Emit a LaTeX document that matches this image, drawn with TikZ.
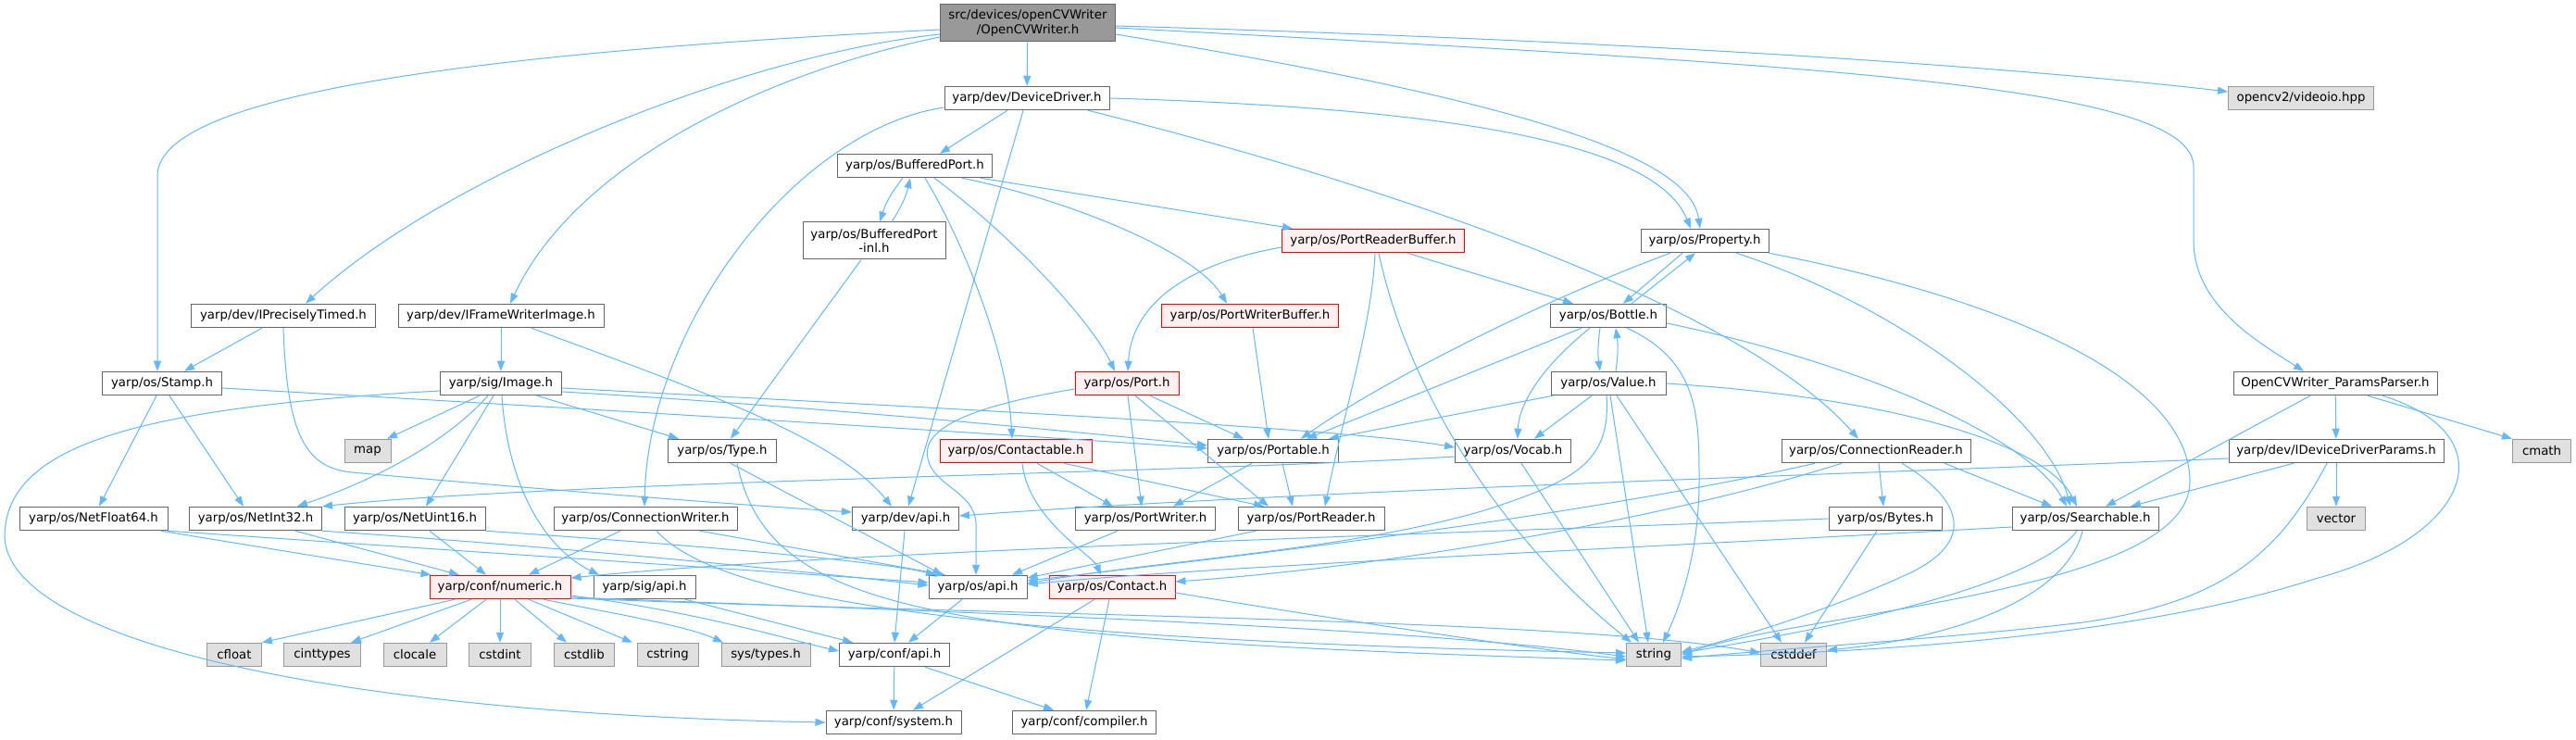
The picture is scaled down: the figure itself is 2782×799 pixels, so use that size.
\documentclass[tikz,border=0pt]{standalone}
\usepackage{fontspec}
\setmainfont{DejaVu Sans}
\usetikzlibrary{arrows.meta}
\definecolor{edgec}{HTML}{63B8FF}
\definecolor{bord}{HTML}{666666}
\definecolor{rootf}{HTML}{999999}
\definecolor{redf}{HTML}{FFF0F0}
\definecolor{extf}{HTML}{E0E0E0}
\definecolor{extb}{HTML}{999999}
\begin{document}
\begin{tikzpicture}[x=1pt,y=1pt,
  nd/.style={draw=bord,fill=white,line width=1pt,inner sep=0pt,minimum height=25.5pt,font=\fontsize{13.3}{15.5}\selectfont,align=center},
  rootnd/.style={nd,fill=rootf,minimum height=40pt},
  rednd/.style={nd,draw=red,fill=redf},
  extnd/.style={nd,draw=extb,fill=extf},
  edg/.style={draw=edgec,line width=1pt,-{Triangle[length=11pt,width=8pt]}}]
\fill[white] (0,0) rectangle (2782,-799);
\useasboundingbox (0,0) rectangle (2782,-799);
% nodes
\node[rootnd,minimum width=189pt] (root) at (1110,-25) {src/devices/openCVWriter\\/OpenCVWriter.h};
\node[nd,minimum width=178pt] (dd) at (1109,-106) {yarp/dev/DeviceDriver.h};
\node[nd,minimum width=167pt] (bp) at (988,-179) {yarp/os/BufferedPort.h};
\node[nd,minimum width=154pt,minimum height=40pt] (bpi) at (944,-260) {yarp/os/BufferedPort\\-inl.h};
\node[rednd,minimum width=197pt] (prb) at (1483,-260) {yarp/os/PortReaderBuffer.h};
\node[nd,minimum width=138pt] (prop) at (1841,-260) {yarp/os/Property.h};
\node[extnd,minimum width=157pt] (vio) at (2485,-106) {opencv2/videoio.hpp};
\node[nd,minimum width=199pt] (ipt) at (306,-341) {yarp/dev/IPreciselyTimed.h};
\node[nd,minimum width=222pt] (ifw) at (541,-341) {yarp/dev/IFrameWriterImage.h};
\node[rednd,minimum width=191pt] (pwb) at (1350,-341) {yarp/os/PortWriterBuffer.h};
\node[nd,minimum width=125pt] (bottle) at (1737,-341) {yarp/os/Bottle.h};
\node[nd,minimum width=129pt] (stamp) at (175,-414) {yarp/os/Stamp.h};
\node[nd,minimum width=131pt] (image) at (541,-414) {yarp/sig/Image.h};
\node[rednd,minimum width=112pt] (port) at (1217,-414) {yarp/os/Port.h};
\node[nd,minimum width=124pt] (value) at (1737,-414) {yarp/os/Value.h};
\node[nd,minimum width=220pt] (pp) at (2522,-414) {OpenCVWriter\_ParamsParser.h};
\node[extnd,minimum width=50pt] (map) at (397,-487) {map};
\node[nd,minimum width=117pt] (type) at (780,-487) {yarp/os/Type.h};
\node[rednd,minimum width=164pt] (ctbl) at (1097,-487) {yarp/os/Contactable.h};
\node[nd,minimum width=141pt] (portable) at (1375,-487) {yarp/os/Portable.h};
\node[nd,minimum width=125pt] (vocab) at (1634,-487) {yarp/os/Vocab.h};
\node[nd,minimum width=204pt] (cr) at (2026,-487) {yarp/os/ConnectionReader.h};
\node[nd,minimum width=232pt] (iddp) at (2523,-487) {yarp/dev/IDeviceDriverParams.h};
\node[extnd,minimum width=63pt] (cmath) at (2745,-487) {cmath};
\node[nd,minimum width=160pt] (nf64) at (101,-560) {yarp/os/NetFloat64.h};
\node[nd,minimum width=143pt] (ni32) at (276,-560) {yarp/os/NetInt32.h};
\node[nd,minimum width=152pt] (nu16) at (448,-560) {yarp/os/NetUint16.h};
\node[nd,minimum width=198pt] (cw) at (697,-560) {yarp/os/ConnectionWriter.h};
\node[nd,minimum width=115pt] (devapi) at (978,-560) {yarp/dev/api.h};
\node[nd,minimum width=151pt] (pw) at (1237,-560) {yarp/os/PortWriter.h};
\node[nd,minimum width=158pt] (pr) at (1416,-560) {yarp/os/PortReader.h};
\node[nd,minimum width=122pt] (bytes) at (2036,-560) {yarp/os/Bytes.h};
\node[nd,minimum width=158pt] (srch) at (2252,-560) {yarp/os/Searchable.h};
\node[extnd,minimum width=63pt] (vector) at (2523,-560) {vector};
\node[rednd,minimum width=152pt] (numeric) at (540,-634) {yarp/conf/numeric.h};
\node[nd,minimum width=110pt] (sigapi) at (696,-634) {yarp/sig/api.h};
\node[nd,minimum width=106pt] (osapi) at (1056,-634) {yarp/os/api.h};
\node[rednd,minimum width=136pt] (contact) at (1201,-634) {yarp/os/Contact.h};
\node[extnd,minimum width=59pt] (cfloat) at (253,-707) {cfloat};
\node[extnd,minimum width=83pt] (cinttypes) at (348,-707) {cinttypes};
\node[extnd,minimum width=68pt] (clocale) at (448,-707) {clocale};
\node[extnd,minimum width=67pt] (cstdint) at (540,-707) {cstdint};
\node[extnd,minimum width=65pt] (cstdlib) at (631,-707) {cstdlib};
\node[extnd,minimum width=66pt] (cstring) at (721,-707) {cstring};
\node[extnd,minimum width=96pt] (systypes) at (827,-707) {sys/types.h};
\node[nd,minimum width=119pt] (confapi) at (966,-707) {yarp/conf/api.h};
\node[extnd,minimum width=59pt] (string) at (1786,-707) {string};
\node[extnd,minimum width=71pt] (cstddef) at (1937,-707) {cstddef};
\node[nd,minimum width=146pt] (system) at (965,-780) {yarp/conf/system.h};
\node[nd,minimum width=155pt] (compiler) at (1171,-780) {yarp/conf/compiler.h};
% root edges
\draw[edg] (root) -- (dd);
\draw[edg] ([yshift=-7pt]root.west) .. controls (450,-60) and (170,-110) .. (170,-190) -- ([xshift=-5pt]stamp.north);
\draw[edg] ([yshift=-12pt]root.west) .. controls (800,-60) and (480,-190) .. ([xshift=24pt]ipt.north);
\draw[edg] ([yshift=-15pt]root.west) .. controls (820,-80) and (620,-180) .. ([xshift=10pt]ifw.north);
\draw[edg] ([yshift=-12pt]root.east) .. controls (1650,-110) and (1825,-170) .. ([xshift=-5pt]prop.north);
\draw[edg] ([yshift=-3pt]root.east) .. controls (1800,-45) and (2200,-75) .. ([yshift=7pt]vio.west);
\draw[edg] ([yshift=-5pt]root.east) .. controls (1950,-70) and (2369,-90) .. (2369,-180) -- (2369,-260) .. controls (2369,-330) and (2440,-370) .. ([xshift=-34pt]pp.north);
% DeviceDriver
\draw[edg] ([xshift=-21pt]dd.south) -- ([xshift=27pt]bp.north);
\draw[edg] ([xshift=-4pt]dd.south) -- ([xshift=3pt]devapi.north);
\draw[edg] (dd.east) .. controls (1600,-118) and (1790,-160) .. ([xshift=-15pt]prop.north);
\draw[edg] ([xshift=66pt]dd.south) .. controls (1500,-200) and (1880,-330) .. ([xshift=-19pt]cr.north);
\draw[edg] ([yshift=-10pt]dd.west) .. controls (860,-140) and (700,-350) .. ([xshift=-1pt]cw.north);
% BufferedPort
\draw[edg] ([xshift=-13pt]bp.south) to[bend right=10] ([xshift=6pt]bpi.north);
\draw[edg] ([xshift=19pt]bpi.north) to[bend right=10] ([xshift=-5pt]bp.south);
\draw[edg] ([xshift=11pt]bp.south) .. controls (1040,-260) and (1088,-380) .. ([xshift=-4pt]ctbl.north);
\draw[edg] ([xshift=21pt]bp.south) .. controls (1100,-260) and (1180,-350) .. ([xshift=-13pt]port.north);
\draw[edg] ([xshift=51pt]bp.south) .. controls (1150,-215) and (1290,-270) .. ([xshift=-25pt]pwb.north);
\draw[edg] ([xshift=71pt]bp.south) -- ([xshift=12pt]prb.north west);
\draw[edg] ([xshift=-14pt]bpi.south) -- ([xshift=9pt]type.north);
% PortReaderBuffer, PortWriterBuffer
\draw[edg] ([yshift=-7pt]prb.west) .. controls (1280,-285) and (1222,-330) .. ([xshift=1pt]port.north);
\draw[edg] ([xshift=37pt]prb.south) -- ([xshift=-38pt]bottle.north);
\draw[edg] ([xshift=2pt]prb.south) .. controls (1482,-350) and (1450,-450) .. ([xshift=15pt]pr.north);
\draw[edg] ([xshift=6pt]prb.south) .. controls (1520,-420) and (1620,-580) .. ([xshift=-24pt]string.north);
\draw[edg] ([xshift=3pt]pwb.south) -- ([xshift=-5pt]portable.north);
% Property
\draw[edg] ([xshift=-24pt]prop.south) -- ([xshift=16pt]bottle.north);
\draw[edg] ([xshift=25pt]bottle.north) -- ([xshift=-10pt]prop.south);
\draw[edg] ([xshift=-37pt]prop.south) .. controls (1650,-330) and (1480,-420) .. ([xshift=30pt]portable.north);
\draw[edg] ([xshift=34pt]prop.south) .. controls (2050,-330) and (2210,-450) .. ([xshift=-16pt]srch.north);
\draw[edg] (prop.south east) .. controls (2200,-330) and (2365,-420) .. (2365,-520) .. controls (2365,-640) and (1950,-660) .. (string.east);
% Bottle
\draw[edg] ([xshift=-9pt]bottle.south) to[bend right=8] ([xshift=-9pt]value.north);
\draw[edg] ([xshift=8pt]value.north) to[bend right=8] ([xshift=8pt]bottle.south);
\draw[edg] ([xshift=-29pt]bottle.south) -- ([xshift=36pt]portable.north);
\draw[edg] ([xshift=-20pt]bottle.south) .. controls (1660,-400) and (1640,-440) .. ([xshift=5pt]vocab.north);
\draw[edg] ([xshift=20pt]bottle.south) .. controls (1835,-390) and (1835,-450) .. (1835,-520) .. controls (1835,-600) and (1812,-660) .. ([xshift=10pt]string.north);
\draw[edg] ([yshift=-8pt]bottle.east) .. controls (2000,-390) and (2190,-470) .. ([xshift=-20pt]srch.north);
% Value
\draw[edg] ([xshift=-60pt]value.south) -- ([xshift=60pt]portable.north);
\draw[edg] ([xshift=-18pt]value.south) -- ([xshift=23pt]vocab.north);
\draw[edg] (value.east) .. controls (2050,-430) and (2210,-480) .. ([xshift=-9pt]srch.north);
\draw[edg] ([xshift=2pt]value.south) -- ([xshift=-6pt]string.north);
\draw[edg] ([xshift=9pt]value.south) -- ([xshift=-13pt]cstddef.north);
\draw[edg] ([xshift=-2pt]value.south) .. controls (1740,-500) and (1700,-520) .. (1600,-552) .. controls (1450,-595) and (1250,-605) .. ([yshift=4pt]osapi.east);
% Vocab
\draw[edg] ([yshift=-6pt]vocab.west) .. controls (1300,-510) and (600,-520) .. (ni32.north east);
\draw[edg] ([xshift=9pt]vocab.south) -- ([xshift=-16pt]string.north);
% Image
\draw[edg] ([xshift=-23pt]image.south) -- ([xshift=21pt]map.north);
\draw[edg] ([xshift=-14pt]image.south) .. controls (480,-480) and (400,-520) .. ([xshift=45pt]ni32.north);
\draw[edg] ([xshift=-8pt]image.south) -- ([xshift=12pt]nu16.north);
\draw[edg] ([xshift=1pt]image.south) .. controls (548,-520) and (585,-590) .. ([xshift=-49pt]sigapi.north);
\draw[edg] ([yshift=-8pt]image.west) .. controls (150,-440) and (5,-480) .. (5,-580) .. controls (10,-690) and (350,-770) .. (system.west);
\draw[edg] ([xshift=39pt]image.south) -- ([xshift=-47pt]type.north);
\draw[edg] ([yshift=-9pt]image.east) .. controls (900,-440) and (1200,-470) .. ([yshift=6pt]portable.west);
\draw[edg] ([yshift=-5pt]image.east) .. controls (1000,-440) and (1450,-462) .. ([yshift=4pt]vocab.west);
% Stamp, interfaces
\draw[edg] ([yshift=-5pt]stamp.east) .. controls (700,-445) and (1100,-470) .. ([yshift=3pt]portable.west);
\draw[edg] (ifw) -- (image);
\draw[edg] ([xshift=33pt]ifw.south) .. controls (750,-420) and (900,-470) .. ([xshift=-15pt]devapi.north);
\draw[edg] ([xshift=-23pt]ipt.south) -- ([xshift=24pt]stamp.north);
\draw[edg] (ipt.south) .. controls (310,-470) and (330,-505) .. (380,-510) .. controls (600,-530) and (800,-545) .. ([yshift=7pt]devapi.west);
\draw[edg] ([xshift=-6pt]stamp.south) -- ([xshift=6pt]nf64.north);
\draw[edg] ([xshift=8pt]stamp.south) -- ([xshift=-13pt]ni32.north);
% Net*
\draw[edg] ([xshift=73pt]nf64.south) -- ([xshift=2pt]numeric.north west);
\draw[edg] (nf64.south east) .. controls (500,-595) and (800,-615) .. ([yshift=5pt]osapi.west);
\draw[edg] ([xshift=43pt]ni32.south) -- ([xshift=-44pt]numeric.north);
\draw[edg] (ni32.south east) .. controls (600,-590) and (850,-615) .. ([yshift=2pt]osapi.west);
\draw[edg] ([xshift=16pt]nu16.south) -- ([xshift=-15pt]numeric.north);
\draw[edg] (nu16.south east) .. controls (800,-592) and (960,-608) .. ([xshift=-45pt]osapi.north);
% ConnectionWriter
\draw[edg] ([xshift=-27pt]cw.south) -- ([xshift=31pt]numeric.north);
\draw[edg] ([xshift=59pt]cw.south) -- ([xshift=-35pt]osapi.north);
\draw[edg] ([xshift=12pt]cw.south) .. controls (770,-640) and (1000,-690) .. ([yshift=2pt]string.west);
% numeric
\draw[edg] ([xshift=-49pt]numeric.south) -- (cfloat.north east);
\draw[edg] ([xshift=-31pt]numeric.south) -- ([xshift=31pt]cinttypes.north);
\draw[edg] ([xshift=-15pt]numeric.south) -- ([xshift=16pt]clocale.north);
\draw[edg] (numeric.south) -- (cstdint.north);
\draw[edg] ([xshift=16pt]numeric.south) -- ([xshift=-19pt]cstdlib.north);
\draw[edg] ([xshift=31pt]numeric.south) -- ([xshift=-38pt]cstring.north);
\draw[edg] ([xshift=47pt]numeric.south) .. controls (650,-660) and (740,-675) .. ([xshift=-46pt]systypes.north);
\draw[edg] ([yshift=-9pt]numeric.east) .. controls (750,-660) and (850,-690) .. ([yshift=4pt]confapi.west);
\draw[edg] ([yshift=-11pt]numeric.east) .. controls (1000,-660) and (1500,-675) .. ([yshift=-2pt]string.west);
\draw[edg] ([yshift=-12pt]numeric.east) .. controls (1100,-665) and (1700,-668) .. ([yshift=2pt]cstddef.west);
% api
\draw[edg] ([xshift=44pt]sigapi.south) -- ([xshift=-45pt]confapi.north);
\draw[edg] ([xshift=-1pt]devapi.south) -- (confapi.north);
\draw[edg] ([xshift=-17pt]osapi.south) -- ([xshift=15pt]confapi.north);
\draw[edg] (confapi) -- (system);
\draw[edg] ([xshift=33pt]confapi.south) -- ([xshift=-33pt]compiler.north);
% Contact
\draw[edg] ([xshift=-19pt]contact.south) -- ([xshift=21pt]system.north);
\draw[edg] ([xshift=-3pt]contact.south) -- ([xshift=2pt]compiler.north);
\draw[edg] ([yshift=-6pt]contact.east) .. controls (1450,-670) and (1650,-700) .. ([yshift=-5pt]string.west);
% PortWriter, PortReader, Port, Portable, Contactable, Type
\draw[edg] ([xshift=-30pt]pw.south) -- ([xshift=37pt]osapi.north);
\draw[edg] ([xshift=-60pt]pr.south) -- ([yshift=10pt]osapi.east);
\draw[edg] ([xshift=1pt]port.south) -- ([xshift=-4pt]pw.north);
\draw[edg] ([xshift=9pt]port.south) -- ([xshift=-46pt]pr.north);
\draw[edg] ([xshift=25pt]port.south) -- ([xshift=-32pt]portable.north);
\draw[edg] ([yshift=-6pt]port.west) .. controls (1040,-440) and (995,-465) .. (1002,-495) .. controls (1008,-525) and (1052,-530) .. (1054,-565) -- ([xshift=-2pt]osapi.north);
\draw[edg] ([xshift=-23pt]portable.south) -- ([xshift=30pt]pw.north);
\draw[edg] ([xshift=10pt]portable.south) -- ([xshift=-20pt]pr.north);
\draw[edg] ([xshift=7pt]ctbl.south) .. controls (1110,-560) and (1180,-600) .. ([xshift=-12pt]contact.north);
\draw[edg] ([xshift=23pt]ctbl.south) -- ([xshift=-35pt]pw.north);
\draw[edg] ([xshift=52pt]ctbl.south) -- ([xshift=-51pt]pr.north);
\draw[edg] ([xshift=9pt]type.south) -- ([xshift=-38pt]osapi.north);
\draw[edg] ([xshift=16pt]type.south) .. controls (830,-660) and (1000,-690) .. ([yshift=-6pt]string.west);
% ConnectionReader
\draw[edg] ([xshift=3pt]cr.south) -- ([xshift=-2pt]bytes.north);
\draw[edg] ([xshift=74pt]cr.south) -- ([xshift=-36pt]srch.north);
\draw[edg] ([xshift=-37pt]cr.south) .. controls (1800,-560) and (1500,-612) .. ([yshift=6pt]contact.east);
\draw[edg] ([xshift=-66pt]cr.south) .. controls (1700,-560) and (1300,-605) .. ([yshift=7pt]osapi.east);
\draw[edg] ([xshift=28pt]cr.south) .. controls (2120,-540) and (2135,-585) .. (2060,-620) .. controls (1950,-670) and (1850,-695) .. ([yshift=3pt]string.east);
% Bytes, Searchable
\draw[edg] ([xshift=-9pt]bytes.south) -- ([xshift=12pt]cstddef.north);
\draw[edg] (bytes.west) .. controls (1600,-575) and (900,-595) .. ([yshift=10pt]numeric.east);
\draw[edg] ([xshift=-9pt]srch.south) .. controls (2200,-630) and (2000,-675) .. ([yshift=2pt]string.east);
\draw[edg] ([xshift=-3pt]srch.south) .. controls (2230,-650) and (2100,-690) .. ([yshift=5pt]cstddef.east);
\draw[edg] ([yshift=-9pt]srch.west) .. controls (1800,-590) and (1300,-612) .. ([yshift=3pt]osapi.east);
% ParamsParser, IDeviceDriverParams
\draw[edg] (pp) -- (iddp);
\draw[edg] ([xshift=35pt]pp.south) -- (cmath.north west);
\draw[edg] ([xshift=-27pt]pp.south) -- ([xshift=22pt]srch.north);
\draw[edg] ([xshift=51pt]pp.south) .. controls (2710,-470) and (2670,-580) .. (2500,-625) .. controls (2300,-690) and (2000,-705) .. ([yshift=-2pt]string.east);
\draw[edg] ([xshift=-46pt]iddp.south) -- ([xshift=49pt]srch.north);
\draw[edg] (iddp) -- (vector);
\draw[edg] ([xshift=-10pt]iddp.south) .. controls (2460,-600) and (2400,-650) .. (2250,-672) .. controls (2100,-690) and (1900,-702) .. ([yshift=-4pt]string.east);
\draw[edg] ([yshift=-8pt]iddp.west) .. controls (2000,-512) and (1400,-530) .. ([yshift=3pt]devapi.east);
\end{tikzpicture}
\end{document}
